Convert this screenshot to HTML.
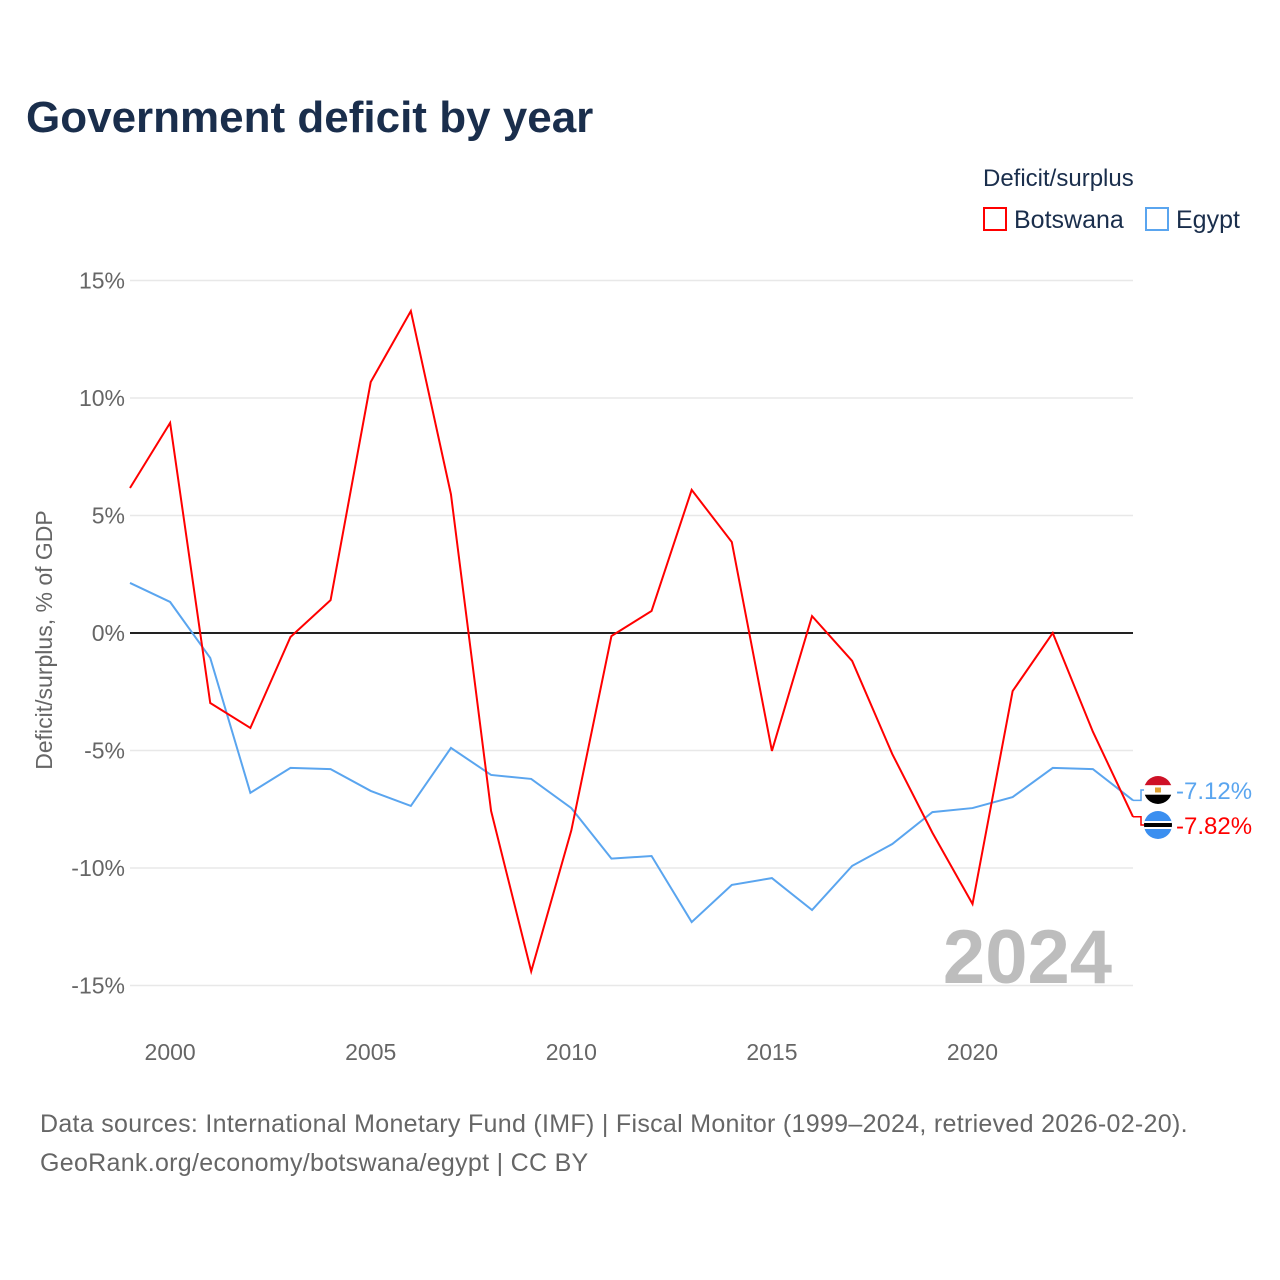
<!DOCTYPE html>
<html><head><meta charset="utf-8"><style>
body{margin:0;background:#fff;font-family:"Liberation Sans",sans-serif;}
#wrap{position:relative;width:1280px;height:1280px;overflow:hidden;}
</style></head><body>
<div id="wrap">
<svg id="chart" width="1280" height="1280" xmlns="http://www.w3.org/2000/svg">
<text x="26" y="132" font-size="44" font-weight="bold" fill="#1a2e4c">Government deficit by year</text>
<text x="983" y="186" font-size="24" fill="#1a2e4c">Deficit/surplus</text>
<g><rect x="984" y="208" width="22" height="22" fill="none" stroke="#ff0000" stroke-width="2"/><text x="1014" y="228" font-size="25" fill="#1a2e4c">Botswana</text></g>
<g><rect x="1146" y="208" width="22" height="22" fill="none" stroke="#5aa5ef" stroke-width="2"/><text x="1176" y="228" font-size="25" fill="#1a2e4c">Egypt</text></g>
<g id="grid"></g><g id="yt"></g><g id="xt"></g>
<text transform="translate(52,640) rotate(-90)" text-anchor="middle" font-size="23" fill="#666">Deficit/surplus, % of GDP</text>
<text x="1112" y="983" text-anchor="end" font-size="76" font-weight="bold" fill="#bdbdbd">2024</text>
<g id="lines"></g>
<text x="40" y="1132" font-size="25" letter-spacing="0.3" fill="#666">Data sources: International Monetary Fund (IMF) | Fiscal Monitor (1999–2024, retrieved 2026-02-20).</text>
<text x="40" y="1171" font-size="25" letter-spacing="0.3" fill="#666">GeoRank.org/economy/botswana/egypt | CC BY</text>
</svg></div>
<script>
const years=[1999,2000,2001,2002,2003,2004,2005,2006,2007,2008,2009,2010,2011,2012,2013,2014,2015,2016,2017,2018,2019,2020,2021,2022,2023,2024];
const botswana=[6.17,8.94,-2.98,-4.04,-0.17,1.4,10.68,13.7,5.9,-7.57,-14.4,-8.4,-0.13,0.94,6.09,3.87,-5.02,0.72,-1.19,-5.15,-8.5,-11.53,-2.47,0,-4.2,-7.82];
const egypt=[2.13,1.32,-1.06,-6.8,-5.74,-5.79,-6.72,-7.36,-4.89,-6.04,-6.21,-7.45,-9.6,-9.49,-12.3,-10.72,-10.43,-11.79,-9.91,-8.98,-7.62,-7.45,-6.98,-5.74,-5.79,-7.12];
const yTicks=[15,10,5,0,-5,-10,-15];
const xTicks=[2000,2005,2010,2015,2020];
const NS="http://www.w3.org/2000/svg";
const X=v=>130+(v-1999)*(1003/25);
const Y=v=>633-v*23.5;
function mk(t,a,p){const e=document.createElementNS(NS,t);for(const k in a)e.setAttribute(k,a[k]);p.appendChild(e);return e;}
const grid=document.getElementById('grid'),yt=document.getElementById('yt'),xt=document.getElementById('xt'),lines=document.getElementById('lines');
yTicks.forEach(v=>{
 const l=mk('line',{x1:130,x2:1133,y1:Y(v),y2:Y(v),stroke:v===0?'#222':'#e8e8e8','stroke-width':v===0?2:1.5},grid);
 
 
 const t=mk('text',{x:125,y:Y(v)+8,'text-anchor':'end','font-size':23,fill:'#666'},yt);
 t.textContent=v+'%';
 
 
});
xTicks.forEach(v=>{
 const t=mk('text',{x:X(v),y:1060,'text-anchor':'middle','font-size':23,fill:'#666'},xt);
 t.textContent=v;
 
 
});
function series(vals,color,name){
 const p=mk('polyline',{points:vals.map((v,i)=>X(years[i])+','+Y(v)).join(' '),fill:'none',stroke:color,'stroke-width':2},lines);
 
 
}
series(egypt,'#5aa5ef','egypt-line');
series(botswana,'#ff0000','botswana-line');
function endLabel(vals,color,ly,name,flag){
 const last=vals[vals.length-1],x=X(2024),y=Y(last);
 const c=mk('polyline',{points:`${x},${y} ${x+8},${y} ${x+8},${ly} ${x+12},${ly}`,fill:'none',stroke:color,'stroke-width':1.5},lines);
 
 
 const g=mk('g',{},lines);
 
 
 const cx=1158,r=14;
 const cp=mk('clipPath',{id:'cp'+name},g);
 mk('circle',{cx:cx,cy:ly,r:r},cp);
 const gg=mk('g',{'clip-path':`url(#cp${name})`},g);
 flag.forEach(([c0,y0,h,w])=>{const ww=w||2*r;mk('rect',{x:cx-ww/2,y:ly-r+y0,width:ww,height:h,fill:c0},gg);});
 const t=mk('text',{x:1176,y:ly+9,'font-size':24,fill:color},lines);
 t.textContent=last.toFixed(2)+'%';
 
 
}
endLabel(egypt,'#5aa5ef',790,'egypt',[['#ce1126',0,9.3],['#fff',9.3,9.4],['#000',18.7,9.3],['#e0a030',11.5,5,6]]);
endLabel(botswana,'#ff0000',825,'botswana',[['#3b8ff0',0,28],['#fff',10,8],['#000',12,4]]);
</script>
</body></html>
